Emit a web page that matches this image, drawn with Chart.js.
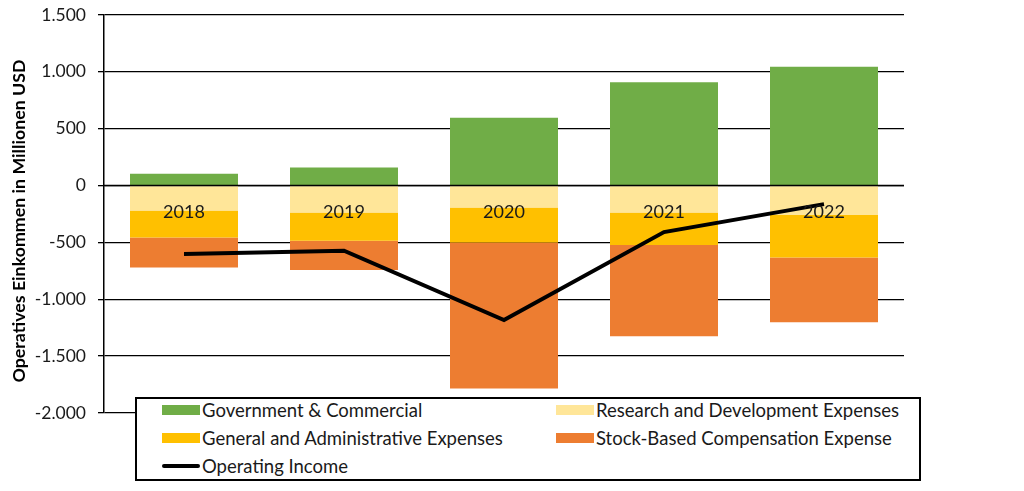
<!DOCTYPE html>
<html>
<head>
<meta charset="utf-8">
<script src="https://cdn.jsdelivr.net/npm/chart.js@4/dist/chart.umd.min.js"></script>
<style>
  html, body { margin: 0; padding: 0; background: #fff; }
  #wrap { position: relative; width: 1024px; height: 491px; }
  #legend {
    position: absolute; left: 135px; top: 397px; width: 782px; height: 80px;
    border: 2px solid #000; background: #fff; box-sizing: content-box;
    font-family: Lato, "Open Sans", sans-serif; font-size: 18.5px; color: #1a1a1a;
  }
  .item { position: absolute; display: flex; align-items: center; height: 26px; }
  .sw { width: 38px; height: 10px; margin-right: 2px; }
  .ln { width: 38px; height: 4px; background: #000; border-radius: 2px; margin-right: 2px; }
</style>
</head>
<body>
<div id="wrap">
  <canvas id="chart" width="1024" height="491"></canvas>
  <div id="legend"></div>
</div>
<script>
var years = ["2018", "2019", "2020", "2021", "2022"];
var govCommercial = [103, 160, 596, 908, 1045];
var researchDev = [-220, -236, -192, -236, -259];
var generalAdmin = [-237, -249, -308, -287, -373];
var stockComp = [-264, -258, -1284, -801, -571];
var operatingIncome = [-601, -573, -1183, -409, -163];
var yTicks = [1500, 1000, 500, 0, -500, -1000, -1500, -2000];
var yTitle = "Operatives Einkommen in Millionen USD";

var fontFamily = "Lato, 'Open Sans', sans-serif";

function fmt(v) {
  var s = Math.abs(v).toString().replace(/\B(?=(\d{3})+(?!\d))/g, ".");
  return (v < 0 ? "-" : "") + s;
}

// zero line, year labels and axis title drawn on top of the bars (Excel style)
var overlay = {
  id: "overlay",
  afterDatasetsDraw: function(chart) {
    var ctx = chart.ctx, x = chart.scales.x, y = chart.scales.y;
    var y0 = y.getPixelForValue(0);
    ctx.save();
    ctx.strokeStyle = "#000";
    ctx.lineWidth = 1.5;
    ctx.beginPath();
    ctx.moveTo(chart.chartArea.left, y0);
    ctx.lineTo(chart.chartArea.right, y0);
    ctx.stroke();
    ctx.fillStyle = "#1a1a1a";
    ctx.font = "18px " + fontFamily;
    ctx.textAlign = "center";
    ctx.textBaseline = "middle";
    years.forEach(function(yr, i) {
      ctx.fillText(yr, x.getPixelForValue(i), y0 + 27);
    });
    ctx.translate(19, 221);
    ctx.rotate(-Math.PI / 2);
    ctx.fillStyle = "#000";
    ctx.font = "bold 17.8px " + fontFamily;
    ctx.fillText(yTitle, 0, 0);
    ctx.restore();
  }
};

var barOpts = { stack: "bars", order: 1, categoryPercentage: 1, barPercentage: 0.675, borderWidth: 0 };

var chart = new Chart(document.getElementById("chart"), {
  type: "bar",
  data: {
    labels: years,
    datasets: [
      Object.assign({ label: "Government & Commercial", data: govCommercial, backgroundColor: "#70AD47" }, barOpts),
      Object.assign({ label: "Research and Development Expenses", data: researchDev, backgroundColor: "#FFE699" }, barOpts),
      Object.assign({ label: "General and Administrative Expenses", data: generalAdmin, backgroundColor: "#FFC000" }, barOpts),
      Object.assign({ label: "Stock-Based Compensation Expense", data: stockComp, backgroundColor: "#ED7D31" }, barOpts),
      {
        type: "line", label: "Operating Income", data: operatingIncome, stack: "line", order: 0,
        borderColor: "#000", borderWidth: 4, pointRadius: 0, fill: false, tension: 0
      }
    ]
  },
  plugins: [overlay],
  options: {
    responsive: false,
    animation: false,
    layout: { padding: { top: 15, right: 120, bottom: 78, left: 0 } },
    plugins: { legend: { display: false }, tooltip: { enabled: false } },
    scales: {
      x: { display: false },
      y: {
        stacked: true,
        min: -2000, max: 1500,
        afterBuildTicks: function(scale) {
          scale.ticks = yTicks.map(function(v) { return { value: v }; });
        },
        afterFit: function(scale) {
          scale.width = 104;
          scale.paddingTop = 0;
          scale.paddingBottom = 0;
        },
        grid: { color: "#000", lineWidth: 1.3, tickLength: 6 },
        border: { color: "#000", width: 1.5 },
        ticks: {
          padding: 12, color: "#1a1a1a",
          font: { family: fontFamily, size: 17.5 },
          callback: function(v) { return fmt(v); }
        }
      }
    }
  }
});

// legend box overlapping the plot like the original
var legendItems = [
  { label: "Government & Commercial", color: "#70AD47", x: 25, y: -2 },
  { label: "Research and Development Expenses", color: "#FFE699", x: 419, y: -2 },
  { label: "General and Administrative Expenses", color: "#FFC000", x: 25, y: 26 },
  { label: "Stock-Based Compensation Expense", color: "#ED7D31", x: 419, y: 26 },
  { label: "Operating Income", line: true, x: 25, y: 54 }
];
var legend = document.getElementById("legend");
legendItems.forEach(function(it) {
  var d = document.createElement("div");
  d.className = "item";
  d.style.left = it.x + "px";
  d.style.top = it.y + "px";
  var m = document.createElement("span");
  if (it.line) { m.className = "ln"; } else { m.className = "sw"; m.style.background = it.color; }
  d.appendChild(m);
  var t = document.createElement("span");
  t.textContent = it.label;
  d.appendChild(t);
  legend.appendChild(d);
});
</script>
</body>
</html>
